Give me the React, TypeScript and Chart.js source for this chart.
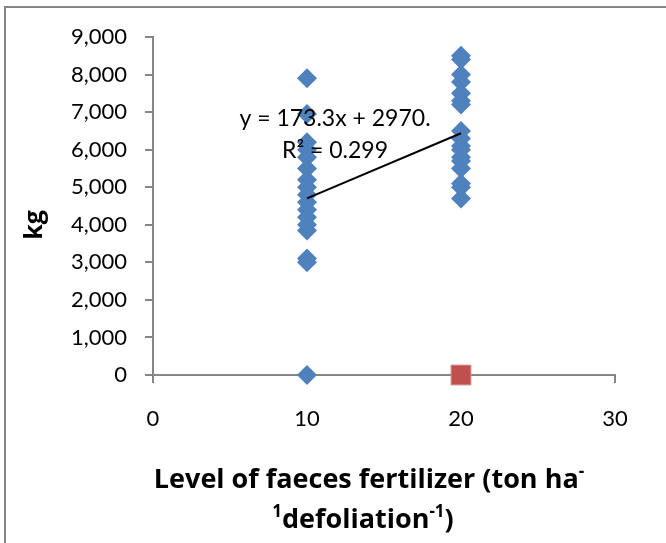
import { useEffect, useRef } from "react";
import { Chart, registerables } from "chart.js";

Chart.register(...registerables);

// ---- data ----
const level10Values = [0, 3000, 3100, 3850, 4000, 4200, 4400, 4600, 4800, 5000, 5200, 5500, 5800, 6000, 6200, 6950, 7900];
const level20Values = [8500, 8400, 8000, 7800, 7500, 7300, 7200, 6500, 6300, 6100, 6000, 5800, 5700, 5500, 5100, 5000, 4700];
const level20SecondSeries = [0];
const fertilizerLevels = [10, 20];
const trendSlope = 173.3;
const trendIntercept = 2970;
const xTickStep = 10;
const xMax = 30;
const yTickStep = 1000;
const yMax = 9000;
const equationLines = ["y = 173.3x + 2970.", "R\u00B2 = 0.299"];
const yTitle = "kg";
// x title with superscripts: [text, isSuperscript]
const xTitleLine1: [string, boolean][] = [["Level of faeces fertilizer (ton ha", false], ["-", true]];
const xTitleLine2: [string, boolean][] = [["1", true], ["defoliation", false], ["-1", true], [")", false]];

const FONT = "Lato, 'Open Sans', sans-serif";
const TITLE_FONT = "'Open Sans', Lato, sans-serif";

function drawSegments(ctx: CanvasRenderingContext2D, segs: [string, boolean][], cx: number, baseline: number, size: number) {
  const supSize = Math.round(size * 0.62);
  const widths = segs.map(([t, sup]) => {
    ctx.font = `bold ${sup ? supSize : size}px ${TITLE_FONT}`;
    return ctx.measureText(t).width;
  });
  const total = widths.reduce((a, b) => a + b, 0);
  let x = cx - total / 2;
  ctx.textAlign = "left";
  ctx.textBaseline = "alphabetic";
  segs.forEach(([t, sup], i) => {
    ctx.font = `bold ${sup ? supSize : size}px ${TITLE_FONT}`;
    ctx.fillText(t, x, sup ? baseline - size * 0.4 : baseline);
    x += widths[i];
  });
}

const textPlugin = {
  id: "extraTexts",
  afterDatasetsDraw(chart: any) {
    const { ctx, chartArea } = chart;
    ctx.save();
    ctx.fillStyle = "#000";
    // trendline equation
    ctx.font = `23px ${FONT}`;
    ctx.textAlign = "center";
    ctx.textBaseline = "alphabetic";
    const ecx = chartArea.left + 182;
    ctx.fillText(equationLines[0], ecx, chartArea.top + 89);
    ctx.fillText(equationLines[1], ecx, chartArea.top + 121);
    // y title
    ctx.save();
    ctx.translate(35, 225);
    ctx.rotate(-Math.PI / 2);
    ctx.font = `bold 25px ${TITLE_FONT}`;
    ctx.textAlign = "center";
    ctx.textBaseline = "middle";
    ctx.fillText(yTitle, 0, 0);
    ctx.restore();
    // x title
    drawSegments(ctx, xTitleLine1, 369, 488, 27);
    drawSegments(ctx, xTitleLine2, 363, 528, 27);
    ctx.restore();
  },
};

export default function App() {
  const canvasRef = useRef<HTMLCanvasElement | null>(null);

  useEffect(() => {
    if (!canvasRef.current) return;
    const blue = [
      ...level10Values.map((v) => ({ x: fertilizerLevels[0], y: v })),
      ...level20Values.map((v) => ({ x: fertilizerLevels[1], y: v })),
    ];
    const red = level20SecondSeries.map((v) => ({ x: fertilizerLevels[1], y: v }));
    const trend = fertilizerLevels.map((x) => ({ x, y: trendSlope * x + trendIntercept }));
    const axisColor = "#868686";
    const chart = new Chart(canvasRef.current, {
      type: "scatter",
      data: {
        datasets: [
          {
            type: "line",
            label: "trend",
            data: trend,
            borderColor: "#000",
            borderWidth: 2,
            pointRadius: 0,
            fill: false,
            order: 0,
            clip: false,
          } as any,
          {
            label: "Series1",
            data: blue,
            pointStyle: "rectRot",
            pointRadius: 10,
            pointHoverRadius: 10,
            backgroundColor: "#4F81BD",
            borderColor: "#4F81BD",
            borderWidth: 0,
            order: 1,
            clip: false,
          },
          {
            label: "Series2",
            data: red,
            pointStyle: "rect",
            pointRadius: 14,
            pointHoverRadius: 14,
            backgroundColor: "#C0504D",
            borderColor: "#D58A88",
            borderWidth: 1,
            order: 2,
            clip: false,
          },
        ],
      },
      options: {
        animation: false,
        responsive: false,
        layout: { padding: { left: 0, top: 37, right: 51, bottom: 0 } },
        plugins: { legend: { display: false }, tooltip: { enabled: false } },
        scales: {
          x: {
            type: "linear",
            min: 0,
            max: xMax,
            afterFit: (s: any) => { s.height = 168; },
            ticks: { stepSize: xTickStep, color: "#000", font: { family: FONT, size: 22 }, padding: 23 },
            grid: { drawOnChartArea: false, drawTicks: true, tickLength: 8, color: axisColor, lineWidth: 2 },
            border: { color: axisColor, width: 2 },
          },
          y: {
            type: "linear",
            min: 0,
            max: yMax,
            afterFit: (s: any) => { s.width = 153; },
            ticks: {
              stepSize: yTickStep,
              color: "#000",
              font: { family: FONT, size: 22 },
              padding: 18,
              callback: (v: any) => Number(v).toLocaleString("en-US"),
            },
            grid: { drawOnChartArea: false, drawTicks: true, tickLength: 8, color: axisColor, lineWidth: 2 },
            border: { color: axisColor, width: 2 },
          },
        },
      },
      plugins: [textPlugin],
    });
    return () => chart.destroy();
  }, []);

  return (
    <div style={{ position: "fixed", left: 0, top: 0, width: 666, height: 543, overflow: "hidden", background: "#fff" }}>
      <div style={{ position: "absolute", left: 4, top: 6, width: 700, height: 600, border: "2px solid #868686" }} />
      <canvas ref={canvasRef} width={666} height={543} style={{ position: "absolute", left: 0, top: 0 }} />
    </div>
  );
}
